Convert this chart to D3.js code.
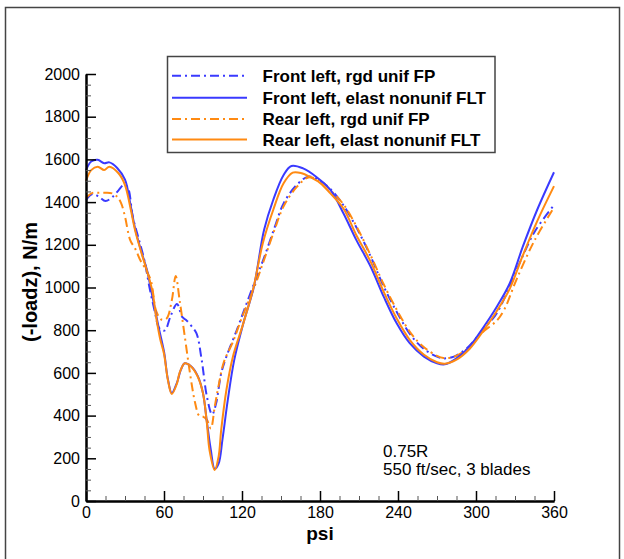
<!DOCTYPE html>
<html><head><meta charset="utf-8">
<script src="https://cdn.jsdelivr.net/npm/d3@7"></script>
<style>body{margin:0;background:#fff}svg{display:block}text{font-family:"Liberation Sans",Arial,Helvetica,sans-serif}</style>
</head><body><svg id="c" width="624" height="559"></svg>
<script>
// ---- data ----
const seriesNames = ["Front left, rgd unif FP","Front left, elast nonunif FLT","Rear left, rgd unif FP","Rear left, elast nonunif FLT"];
const xTicks = [0,60,120,180,240,300,360];
const yTicks = [0,200,400,600,800,1000,1200,1400,1600,1800,2000];

const frontRgdPsi = [0,5,10,15,20,25,29,32,36,40,45,49,53,56,59,61,65,70,74,77,81,85,89,93,97,100,104,108,116,122,130,137,145,152,162,171,180,189,198,209,219,229,240,250,260,270,275,283,293,305,316,331,345,360];
const frontRgdVal = [1410,1438,1425,1405,1422,1455,1480,1470,1330,1240,1125,995,885,812,798,800,865,923,862,848,820,785,660,489,405,455,598,676,801,900,1030,1140,1280,1394,1480,1519,1500,1455,1385,1270,1145,1005,875,775,712,676,668,676,716,800,880,1080,1260,1386];

const frontElPsi = [0,4,9,14,18,24,30,34,38,43,47,50,53,56,60,63,66,70,73,76,81,86,90,93,96,99,102,105,109,114,121,129,137,144,152,158,167,177,188,198,208,219,229,239,249,260,270,276,285,295,306,316,326,336,347,360];
const frontElVal = [1550,1590,1598,1582,1586,1560,1505,1395,1270,1160,1080,990,900,810,700,570,505,555,615,645,630,585,505,370,240,150,175,290,470,660,832,1000,1270,1410,1527,1569,1558,1519,1457,1348,1222,1097,957,832,739,676,645,640,668,723,816,910,1020,1191,1363,1540];

const rearRgdPsi = [0,5,10,15,20,24,27,30,34,38,42,46,50,54,58,62,66,69,72,76,80,84,87,90,93,96,99,102,106,113,120,130,137,145,152,162,171,180,189,198,209,219,229,240,250,260,270,275,283,293,305,316,322,331,345,360];
const rearRgdVal = [1420,1443,1444,1444,1441,1425,1395,1332,1222,1180,1125,1085,1030,890,850,855,940,1054,941,770,598,458,400,395,380,340,441,540,650,745,860,1010,1130,1270,1380,1470,1515,1500,1450,1390,1275,1150,1015,885,785,720,680,670,675,712,790,845,900,1035,1220,1375];

const rearElPsi = [0,4,9,14,18,25,30,34,38,43,47,51,54,57,60,63,66,70,72,76,81,86,90,93,95,99,102,104,108,113,121,129,136,144,152,159,166,172,180,188,198,208,219,229,239,249,260,270,276,285,295,306,316,326,336,347,360];
const rearElVal = [1500,1550,1566,1550,1566,1535,1480,1378,1262,1155,1075,985,860,760,690,567,501,551,600,645,629,582,504,364,239,145,208,333,520,676,832,1004,1207,1363,1488,1538,1535,1519,1490,1441,1370,1245,1120,980,855,755,685,650,643,662,712,800,890,995,1150,1310,1475];

const seriesPsi = [frontRgdPsi, frontElPsi, rearRgdPsi, rearElPsi];
const seriesVal = [frontRgdVal, frontElVal, rearRgdVal, rearElVal];
const seriesColor = ["#3a3aff","#3a3aff","#ff8a12","#ff8a12"];
const seriesDash = ["9,4,2,4", null, "9,4,2,4", null];

// ---- layout ----
const svg = d3.select("#c");
const L = 86, R = 554, T = 74, B = 501;
const x = d3.scaleLinear().domain([0,360]).range([L,R]);
const y = d3.scaleLinear().domain([0,2000]).range([B,T]);

// outer frame
svg.append("rect").attr("x",5.5).attr("y",7.5).attr("width",614).attr("height",600)
  .attr("fill","none").attr("stroke","#444").attr("stroke-width",1.5);

// curves
const line = d3.line().x(d=>x(d[0])).y(d=>y(d[1])).curve(d3.curveCatmullRom.alpha(0.5));
const order = [0,2,1,3];
order.forEach(i=>{
  const pts = seriesPsi[i].map((p,k)=>[p, seriesVal[i][k]]);
  svg.append("path").datum(pts).attr("d",line).attr("fill","none")
    .attr("stroke",seriesColor[i]).attr("stroke-width",2)
    .attr("stroke-dasharray",seriesDash[i]);
});

// axes
const fmt = d3.format("d");
const minorX = d3.range(0,361,15).filter(v=>v%60!==0);
const minorY = d3.range(0,2001,50).filter(v=>v%200!==0);
const gx = svg.append("g").attr("transform",`translate(0,${B})`);
gx.call(d3.axisBottom(x).tickValues(xTicks).tickFormat(fmt).tickSize(-10).tickSizeOuter(0));
const gxm = svg.append("g").attr("transform",`translate(0,${B})`);
gxm.call(d3.axisBottom(x).tickValues(minorX).tickSize(-5).tickFormat("").tickSizeOuter(0));
const gy = svg.append("g").attr("transform",`translate(${L},0)`);
gy.call(d3.axisLeft(y).tickValues(yTicks).tickFormat(fmt).tickSize(-10).tickSizeOuter(0));
const gym = svg.append("g").attr("transform",`translate(${L},0)`);
gym.call(d3.axisLeft(y).tickValues(minorY).tickSize(-5).tickFormat("").tickSizeOuter(0));
[gx,gxm,gy,gym].forEach(g=>{
  g.selectAll("path.domain").attr("stroke","#000").attr("stroke-width",2);
  g.selectAll(".tick line").attr("stroke","#000").attr("stroke-width",1.5);
});
[gxm,gym].forEach(g=>g.selectAll(".tick line").attr("stroke-width",1).attr("stroke","#555"));
gx.selectAll("text").attr("font-size",16).attr("fill","#000").attr("font-family","Liberation Sans, Arial, sans-serif").attr("y",6).attr("dy","0.7em");
gy.selectAll("text").attr("font-size",16).attr("fill","#000").attr("font-family","Liberation Sans, Arial, sans-serif").attr("x",-6);

// axis titles
svg.append("text").attr("x",(L+R)/2).attr("y",539.5).attr("text-anchor","middle")
  .attr("font-size",19).attr("font-weight","bold").text("psi");
svg.append("text").attr("transform",`translate(37,${282}) rotate(-90)`).attr("text-anchor","middle")
  .attr("font-size",20).attr("font-weight","bold").text("(-loadz), N/m");

// annotation
svg.append("text").attr("x",383).attr("y",456.5).attr("font-size",17).text("0.75R");
svg.append("text").attr("x",383).attr("y",475).attr("font-size",17).text("550 ft/sec, 3 blades");

// legend
const lg = svg.append("g");
lg.append("rect").attr("x",167.5).attr("y",56.5).attr("width",327.5).attr("height",96)
  .attr("fill","#fff").attr("stroke","#444").attr("stroke-width",1.5);
const rowsY = [75.7,97.7,119,139.5];
seriesNames.forEach((n,i)=>{
  lg.append("line").attr("x1",172).attr("x2",247).attr("y1",rowsY[i]).attr("y2",rowsY[i])
    .attr("stroke",seriesColor[i]).attr("stroke-width",2).attr("stroke-dasharray",seriesDash[i]);
  lg.append("text").attr("x",262.5).attr("y",rowsY[i]+6).attr("font-size",17).attr("font-weight","bold").text(n);
});
</script></body></html>
